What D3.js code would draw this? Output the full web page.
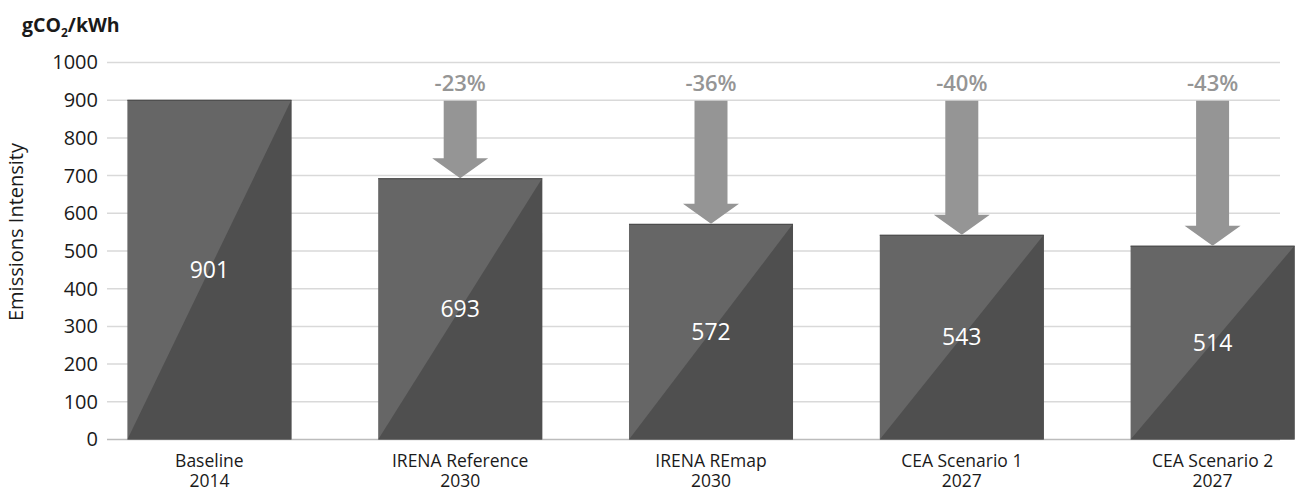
<!DOCTYPE html>
<html>
<head>
<meta charset="utf-8">
<script src="https://cdn.jsdelivr.net/npm/d3@7"></script>
<style>
    body { margin: 0; background: #fff; }
    svg { display: block; font-family: "Open Sans", sans-serif; }
</style>
</head>
<body>
<div id="chart"></div>
<script>
const categories = ["Baseline", "IRENA Reference", "IRENA REmap", "CEA Scenario 1", "CEA Scenario 2"];
const years = ["2014", "2030", "2030", "2027", "2027"];
const values = [901, 693, 572, 543, 514];
const reductions = [null, "-23%", "-36%", "-40%", "-43%"];
const yTicks = [0, 100, 200, 300, 400, 500, 600, 700, 800, 900, 1000];

const width = 1298;
const height = 493;
const plot = { left: 107, right: 1280, top: 62.5, bottom: 439.5 };
const light = "#666666";
const dark = "#4f4f4f";
const arrowColor = "#959595";

const data = categories.map((c, i) => ({
    category: c,
    year: years[i],
    value: values[i],
    reduction: reductions[i]
}));

const svg = d3
    .select("#chart")
    .append("svg")
    .attr("width", width)
    .attr("height", height);

const xScale = d3
    .scaleBand()
    .domain(categories)
    .range([84, 1338])
    .paddingInner(0.346)
    .paddingOuter(0.173);

const yScale = d3
    .scaleLinear()
    .domain([0, 1000])
    .range([plot.bottom, plot.top]);

// grid
svg.append("g")
    .selectAll("line")
    .data(yTicks)
    .enter()
    .append("line")
    .attr("x1", plot.left)
    .attr("x2", plot.right)
    .attr("y1", d => yScale(d))
    .attr("y2", d => yScale(d))
    .attr("stroke", d => (d === 0 ? "#bcbcbc" : "#d9d9d9"))
    .attr("stroke-width", 1.5);

const yAxis = d3.axisLeft(yScale)
    .tickValues(yTicks)
    .tickFormat(d3.format("d"))
    .tickSize(0)
    .tickPadding(9);
const yg = svg.append("g")
    .attr("transform", `translate(${plot.left}, 0)`)
    .call(yAxis);
yg.select(".domain").remove();
yg.selectAll("text")
    .attr("font-size", 20)
    .attr("font-family", "Open Sans, sans-serif")
    .attr("fill", "#1a1a1a");

// bars
const bars = svg.append("g")
    .selectAll("g")
    .data(data)
    .enter()
    .append("g");

bars.append("rect")
    .attr("x", d => xScale(d.category))
    .attr("y", d => yScale(d.value))
    .attr("width", xScale.bandwidth())
    .attr("height", d => yScale(0) - yScale(d.value))
    .attr("fill", light);

bars.append("path")
    .attr("d", d => {
        const x0 = xScale(d.category);
        const x1 = x0 + xScale.bandwidth();
        const y0 = yScale(0);
        const y1 = yScale(d.value);
        return `M${x0},${y0}L${x1},${y1}L${x1},${y0}Z`;
    })
    .attr("fill", dark);

bars.append("line")
    .attr("x1", d => xScale(d.category))
    .attr("x2", d => xScale(d.category) + xScale.bandwidth())
    .attr("y1", d => yScale(d.value) + 0.5)
    .attr("y2", d => yScale(d.value) + 0.5)
    .attr("stroke", "#4a4a4a")
    .attr("stroke-width", 1);

bars.append("text")
    .attr("x", d => xScale(d.category) + xScale.bandwidth() / 2)
    .attr("y", d => (yScale(0) + yScale(d.value)) / 2)
    .attr("dy", "0.35em")
    .attr("text-anchor", "middle")
    .attr("font-size", 23)
    .attr("fill", "#ffffff")
    .text(d => d.value);

// arrows from baseline level down to each scenario
const base = values[0];
const arrows = svg.append("g")
    .selectAll("g")
    .data(data.filter(d => d.reduction))
    .enter()
    .append("g");

arrows.append("path")
    .attr("d", d => {
        const cx = xScale(d.category) + xScale.bandwidth() / 2;
        const top = yScale(base) + 1;
        const tip = yScale(d.value);
        const headTop = tip - 20;
        const sw = 16.5;
        const hw = 28;
        return `M${cx - sw},${top}L${cx + sw},${top}L${cx + sw},${headTop}L${cx + hw},${headTop}` +
            `L${cx},${tip}L${cx - hw},${headTop}L${cx - sw},${headTop}Z`;
    })
    .attr("fill", arrowColor);

arrows.append("text")
    .attr("x", d => xScale(d.category) + xScale.bandwidth() / 2)
    .attr("y", 83)
    .attr("dy", "0.35em")
    .attr("text-anchor", "middle")
    .attr("font-size", 22)
    .attr("font-weight", 600)
    .attr("fill", arrowColor)
    .text(d => d.reduction);

// category labels, two lines each
const labelGroup = svg.append("g");
labelGroup.selectAll("text.cat")
    .data(data)
    .enter()
    .append("text")
    .attr("class", "cat")
    .attr("x", d => xScale(d.category) + xScale.bandwidth() / 2)
    .attr("y", 467)
    .attr("text-anchor", "middle")
    .attr("font-size", 17.5)
    .attr("fill", "#1a1a1a")
    .text(d => d.category);
labelGroup.selectAll("text.yr")
    .data(data)
    .enter()
    .append("text")
    .attr("class", "yr")
    .attr("x", d => xScale(d.category) + xScale.bandwidth() / 2)
    .attr("y", 487)
    .attr("text-anchor", "middle")
    .attr("font-size", 17.5)
    .attr("fill", "#1a1a1a")
    .text(d => d.year);

// axis titles
svg.append("text")
    .attr("transform", `translate(16, 232) rotate(-90)`)
    .attr("text-anchor", "middle")
    .attr("dy", "0.35em")
    .attr("font-size", 20)
    .attr("fill", "#1a1a1a")
    .text("Emissions Intensity");

const unit = svg.append("text")
    .attr("x", 22)
    .attr("y", 32)
    .attr("font-size", 19.5)
    .attr("font-weight", 700)
    .attr("fill", "#1a1a1a");
unit.append("tspan").text("gCO");
unit.append("tspan").attr("font-size", 12).attr("dy", 5).text("2");
unit.append("tspan").attr("dy", -5).text("/kWh");
</script>
</body>
</html>
